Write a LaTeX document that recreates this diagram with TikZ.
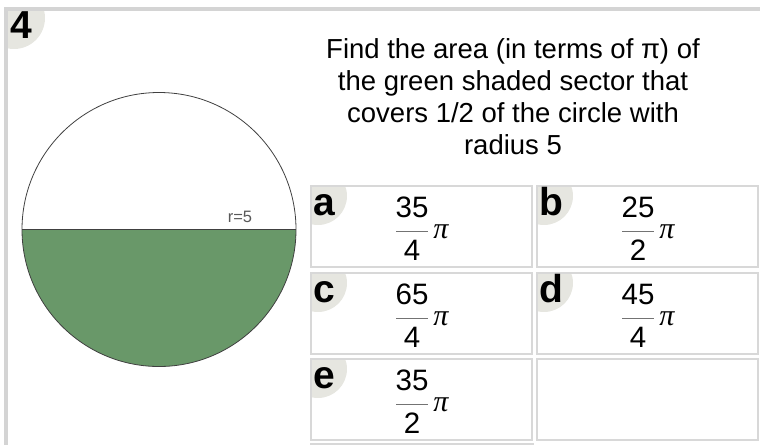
\documentclass[tikz,border=0pt]{standalone}
\usepackage{fontspec}
\setmainfont{Liberation Sans}
\newfontfamily\pifont{Liberation Serif}
\usepackage{tikz}
\definecolor{framegray}{HTML}{D4D4D4}
\definecolor{cellgray}{HTML}{D8D8D8}
\definecolor{badgegray}{HTML}{E6E6E0}
\definecolor{sectorgreen}{HTML}{699869}

\begin{document}
\begin{tikzpicture}[x=1pt,y=-1pt,
    every node/.style={inner sep=0pt,outer sep=0pt},
    cell/.style={draw=cellgray,line width=2.5pt,anchor=north west,minimum width=221pt,minimum height=81pt},
    badgelabel/.style={font=\fontsize{39}{39}\selectfont\bfseries,anchor=base west},
    bignum/.style={font=\fontsize{29.5}{29.5}\selectfont,anchor=base},
    pisign/.style={font=\fontsize{30}{30}\selectfont\pifont\itshape,anchor=base},
    fracline/.style={draw=black!55,line width=1pt},
    question/.style={font=\fontsize{27.5}{31.7}\selectfont,align=center,anchor=base}]
  \useasboundingbox (0,0) rectangle (760,445);
  \fill[framegray] (4,7) rectangle (760,11);
  \fill[framegray] (4,11) rectangle (8,445);
  \begin{scope}
    \clip (8,11) rectangle (300,180);
    \fill[badgegray] (14,18) circle[radius=31];
  \end{scope}
  \node[badgelabel] (qnum) at (10,38) {4};

  \node[circle,minimum size=274pt] (disc) at (159,229.5) {};
  \fill[sectorgreen] (disc.east) arc[start angle=0,end angle=180,radius=137] -- cycle;
  \draw[black!75,line width=0.8pt] (disc.center) circle[radius=137] (disc.west) -- (disc.east);
  \node[font=\fontsize{16.5}{16.5}\selectfont,text=black!65,anchor=base] (rlabel) at (240,222) {r=5};

  \node[question] (qtext) at (513,154) {Find the area (in terms of π) of\\the green shaded sector that\\covers 1/2 of the circle with\\radius 5};

  \foreach \lab/\num/\den/\cx/\cy in {a/35/4/310/185,b/25/2/536/185,c/65/4/310/272,d/45/4/536/272,e/35/2/310/358}{
    \begin{scope}
      \clip (\cx,\cy) rectangle ++(223,83);
      \fill[badgegray] (\cx+8,\cy+11) circle[radius=29];
    \end{scope}
    \node[cell] (cell\lab) at (\cx+1,\cy+1) {};
    \node[badgelabel] (opt\lab) at (\cx+3,\cy+30) {\lab};
    \node[bignum] (num\lab) at (\cx+102,\cy+32) {\num};
    \node[bignum] (den\lab) at (\cx+102,\cy+75) {\den};
    \draw[fracline] (\cx+86,\cy+46) -- (\cx+118,\cy+46);
    \node[pisign] (pi\lab) at (\cx+131,\cy+53) {π};
  }
  \node[cell] (cellf) at (537,359) {};
  \fill[cellgray] (310,442.5) rectangle (534,445);
\end{tikzpicture}
\end{document}
